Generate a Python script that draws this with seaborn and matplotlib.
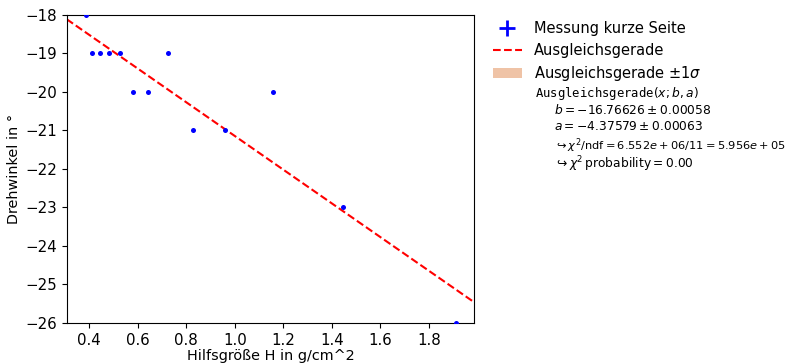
import numpy as np
import pandas as pd
import matplotlib
matplotlib.use("Agg")
import matplotlib.pyplot as plt
import seaborn as sns
from matplotlib.lines import Line2D
from matplotlib.patches import Patch

# === Data ===
hilfsgroesse = [0.388, 0.412, 0.445, 0.480, 0.528, 0.579, 0.643,
                0.725, 0.828, 0.961, 1.159, 1.448, 1.913]
drehwinkel = [-18, -19, -19, -19, -19, -20, -20,
              -19, -21, -21, -20, -23, -26]

# fit parameters (Ausgleichsgerade: y = b + a*x)
b_val, b_err = -16.76626, 0.00058
a_val, a_err = -4.37579, 0.00063
chi2, ndf, chi2_ndf = "6.552e+06", 11, "5.956e+05"

x_range = (0.307, 1.988)
y_range = (-26, -18)
y_ticks = [-26, -25, -24, -23, -22, -21, -20, -19, -18]

df = pd.DataFrame({"H": hilfsgroesse, "winkel": drehwinkel})

# === Figure ===
fig = plt.figure(figsize=(7.92, 3.63), dpi=100)
ax = fig.add_axes([0.0842, 0.1102, 0.5148, 0.8485])

sns.scatterplot(data=df, x="H", y="winkel", ax=ax, color="blue",
                s=13, linewidth=0, zorder=3, legend=False)
ax.axline((0, b_val), slope=a_val, color="red", ls="--", lw=1.5, zorder=2)

ax.set_xlim(*x_range)
ax.set_ylim(*y_range)
ax.set_yticks(y_ticks)
ax.tick_params(labelsize=10.8)
ax.set_xlabel("Hilfsgröße H in g/cm^2", fontsize=10.4, labelpad=1)
ax.set_ylabel("Drehwinkel in °", fontsize=10.4, labelpad=3)

# === Legend + fit info ===
handles = [
    Line2D([], [], color="blue", marker="+", ls="none", markersize=11, mew=2),
    Line2D([], [], color="red", ls="--", lw=1.5),
    Patch(facecolor="#efc3a6", edgecolor="none"),
]
labels = ["Messung kurze Seite", "Ausgleichsgerade",
          r"Ausgleichsgerade $\pm 1\sigma$"]
fig.legend(handles, labels, loc="upper left", bbox_to_anchor=(0.615, 0.958),
           frameon=False, fontsize=10.5, handlelength=2.0,
           handletextpad=0.8, labelspacing=0.45, borderaxespad=0)

fs = 8.8
fig.text(535 / 792, 1 - 93 / 363, r"$\mathtt{Ausgleichsgerade}(x; b, a)$",
         fontsize=fs, va="center")
info = [
    (rf"$b = {b_val:.5f} \pm {b_err:.5f}$", fs),
    (rf"$a = {a_val:.5f} \pm {a_err:.5f}$", fs),
    (rf"$\hookrightarrow \chi^2/\mathrm{{ndf}} = {chi2}/{ndf} = {chi2_ndf}$", 8.2),
    (r"$\hookrightarrow \chi^2\,\mathrm{probability} = 0.00$", fs),
]
for yp, (txt, size) in zip([110, 127, 146, 164], info):
    fig.text(554 / 792, 1 - yp / 363, txt, fontsize=size, va="center")

fig.savefig("out.png", dpi=100)
